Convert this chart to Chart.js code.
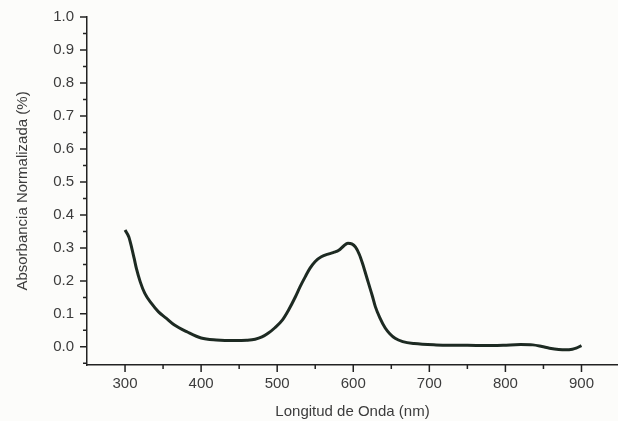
<!DOCTYPE html>
<html>
<head>
<meta charset="utf-8">
<script src="https://cdn.jsdelivr.net/npm/chart.js@4.4.0/dist/chart.umd.min.js"></script>
<style>
  html, body { margin: 0; padding: 0; background: #fcfcfa; }
  #wrap { width: 618px; height: 421px; position: relative; }
</style>
</head>
<body>
<div id="wrap"><canvas id="chart" width="618" height="421"></canvas></div>
<script>
// spectrum
var wavelength = [300, 305, 309, 312, 315, 320, 326, 335, 344, 354, 365, 382, 400, 420, 444, 460, 471, 480, 488, 497,
  507, 515, 524, 530, 537, 543, 550, 558, 568, 575, 581, 587, 593, 598, 603, 608, 612, 616, 620, 625, 629,
  635, 642, 648, 655, 665, 680, 709, 740, 770, 797, 820, 836, 848, 858, 870, 880, 888, 893, 900];
var absorbance = [0.354, 0.333, 0.298, 0.268, 0.237, 0.197, 0.162, 0.131, 0.106, 0.087, 0.066, 0.045, 0.027, 0.021, 0.019, 0.020, 0.023, 0.030, 0.041, 0.058,
  0.082, 0.112, 0.152, 0.182, 0.213, 0.238, 0.259, 0.273, 0.282, 0.287, 0.293, 0.305, 0.314, 0.312, 0.302, 0.28, 0.254, 0.224, 0.193, 0.155, 0.122,
  0.088, 0.057, 0.040, 0.026, 0.016, 0.010, 0.006, 0.005, 0.004, 0.005, 0.007, 0.006, 0.001, -0.004, -0.008, -0.009, -0.007, -0.004, 0.004];

var xTicks = [300, 400, 500, 600, 700, 800, 900];
var xMinor = [350, 450, 550, 650, 750, 850];
var yTicks = [0.0, 0.1, 0.2, 0.3, 0.4, 0.5, 0.6, 0.7, 0.8, 0.9, 1.0];
var yMinor = [-0.05, 0.05, 0.15, 0.25, 0.35, 0.45, 0.55, 0.65, 0.75, 0.85, 0.95];

var inkColor = '#222';
var textColor = '#3c3c3c';
var fontFamily = '"Liberation Sans", Arial, sans-serif';

// draws outward tick marks on both axes (major longer than minor)
var tickMarks = {
  id: 'tickMarks',
  afterDraw: function(chart) {
    var ctx = chart.ctx;
    var xs = chart.scales.x, ys = chart.scales.y;
    var area = chart.chartArea;
    ctx.save();
    ctx.strokeStyle = inkColor;
    ctx.lineWidth = 1.5;
    ctx.beginPath();
    xTicks.forEach(function(v) {
      var px = xs.getPixelForValue(v);
      ctx.moveTo(px, area.bottom); ctx.lineTo(px, area.bottom + 7);
    });
    xMinor.forEach(function(v) {
      var px = xs.getPixelForValue(v);
      ctx.moveTo(px, area.bottom); ctx.lineTo(px, area.bottom + 4);
    });
    yTicks.forEach(function(v) {
      var py = ys.getPixelForValue(v);
      ctx.moveTo(area.left, py); ctx.lineTo(area.left - 7, py);
    });
    yMinor.forEach(function(v) {
      var py = ys.getPixelForValue(v);
      ctx.moveTo(area.left, py); ctx.lineTo(area.left - 4, py);
    });
    ctx.stroke();
    ctx.restore();
  }
};

new Chart(document.getElementById('chart'), {
  type: 'scatter',
  data: {
    datasets: [{
      data: wavelength.map(function(w, i) { return { x: w, y: absorbance[i] }; }),
      showLine: true,
      borderColor: '#1d2a22',
      borderWidth: 3,
      pointRadius: 0,
      tension: 0.4,
      cubicInterpolationMode: 'monotone',
      fill: false
    }]
  },
  options: {
    responsive: false,
    animation: false,
    layout: { padding: { top: 17, right: 0, left: 0, bottom: 0 } },
    plugins: { legend: { display: false }, tooltip: { enabled: false } },
    scales: {
      x: {
        type: 'linear',
        min: 250,
        max: 948,
        grid: { display: false, drawTicks: false },
        border: { display: true, color: inkColor, width: 1.5 },
        afterBuildTicks: function(scale) {
          scale.ticks = xTicks.map(function(v) { return { value: v }; });
        },
        afterFit: function(scale) {
          scale.height = 56;
          scale.paddingLeft = 0;
          scale.paddingRight = 0;
        },
        ticks: {
          padding: 10,
          color: textColor,
          font: { family: fontFamily, size: 15 },
          maxRotation: 0,
          callback: function(v) { return xTicks.indexOf(v) >= 0 ? String(v) : ''; }
        },
        title: {
          display: true,
          text: 'Longitud de Onda (nm)',
          color: textColor,
          font: { family: fontFamily, size: 15 },
          padding: { top: 0, bottom: 0 }
        }
      },
      y: {
        min: -0.055,
        max: 1.0,
        grid: { display: false, drawTicks: false },
        border: { display: true, color: inkColor, width: 1.5 },
        afterBuildTicks: function(scale) {
          scale.ticks = yTicks.map(function(v) { return { value: v }; });
        },
        afterFit: function(scale) {
          scale.width = 87;
          scale.paddingTop = 0;
          scale.paddingBottom = 0;
        },
        ticks: {
          padding: 13,
          color: textColor,
          font: { family: fontFamily, size: 15 },
          callback: function(v) { return v.toFixed(1); }
        },
        title: {
          display: true,
          text: 'Absorbancia Normalizada (%)',
          color: textColor,
          font: { family: fontFamily, size: 15 },
          padding: { top: 14, bottom: 0 }
        }
      }
    }
  },
  plugins: [tickMarks]
});
</script>
</body>
</html>
